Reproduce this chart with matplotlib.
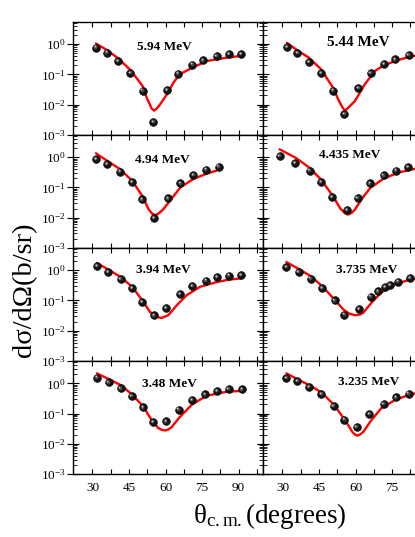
import matplotlib
matplotlib.use("Agg")
import matplotlib.pyplot as plt
import numpy as np
from matplotlib.ticker import FixedLocator, LogLocator, LogFormatterMathtext, NullFormatter
from matplotlib.transforms import offset_copy

plt.rcParams['font.family'] = ['Liberation Serif', 'DejaVu Serif']
plt.rcParams['mathtext.fontset'] = 'custom'
plt.rcParams['mathtext.rm'] = 'Liberation Serif'
plt.rcParams['mathtext.it'] = 'Liberation Serif:italic'
plt.rcParams['mathtext.bf'] = 'Liberation Serif:bold'

# ---------------- data ----------------
energies = ["5.94 MeV", "5.44 MeV", "4.94 MeV", "4.435 MeV",
            "3.94 MeV", "3.735 MeV", "3.48 MeV", "3.235 MeV"]

# 5.94 MeV
e594_x = [31.4, 36, 40.5, 45.6, 50.6, 55, 60.6, 65.2, 71, 75.5, 81, 86, 91]
e594_y = [0.77, 0.52, 0.28, 0.11, 0.029, 0.0026, 0.030, 0.105, 0.21, 0.29, 0.41, 0.47, 0.47]
e594_fx = [31.4, 36, 40.5, 45.6, 50.6, 52.4, 54.3, 55.3, 56.4, 57.7, 60.5, 63.2, 65.8, 71, 76.9, 85, 91]
e594_fy = [1.05, 0.63, 0.339, 0.138, 0.0407, 0.0158, 0.0074, 0.0063, 0.0074, 0.010, 0.0214, 0.0525, 0.10, 0.166, 0.275, 0.355, 0.407]

# 5.44 MeV
e544_x = [31.8, 36.1, 40.8, 45.8, 50.8, 55.4, 61.2, 66.2, 71.6, 76.2, 81.8]
e544_y = [0.79, 0.51, 0.26, 0.11, 0.029, 0.0048, 0.035, 0.11, 0.22, 0.31, 0.43]
e544_fx = [31.8, 36, 40.8, 45.8, 50.8, 53, 54.8, 55.7, 56.8, 59.7, 63.8, 67.9, 71.7, 77.3, 82.7, 84.5]
e544_fy = [1.1, 0.63, 0.355, 0.148, 0.0355, 0.0141, 0.0076, 0.0063, 0.0076, 0.0129, 0.0468, 0.129, 0.20, 0.295, 0.389, 0.41]

# 4.94 MeV
e494_x = [31.4, 35.9, 41.2, 46.3, 50.4, 55.2, 60.9, 66.1, 71.4, 76.7, 81.8]
e494_y = [0.86, 0.60, 0.33, 0.15, 0.040, 0.0095, 0.043, 0.135, 0.26, 0.39, 0.49]
e494_fx = [31.4, 36, 41.2, 46.3, 50.4, 53, 54.5, 55.8, 57.2, 59.1, 61.8, 66.1, 71.4, 76.8, 81.8]
e494_fy = [1.35, 0.76, 0.407, 0.166, 0.0525, 0.019, 0.0135, 0.012, 0.0138, 0.019, 0.0363, 0.10, 0.19, 0.282, 0.38]

# 4.435 MeV
e4435_x = [28.8, 35.1, 41.1, 45.8, 50.3, 56.5, 60.8, 66, 71.5, 76.6, 81.5]
e4435_y = [1.1, 0.65, 0.36, 0.15, 0.048, 0.0175, 0.045, 0.135, 0.25, 0.36, 0.47]
e4435_fx = [28.8, 35.4, 41.1, 45.8, 50.3, 53.7, 55.5, 56.8, 58.2, 59.7, 62.4, 66, 71.5, 77.3, 82.7, 84.5]
e4435_fy = [1.82, 0.955, 0.447, 0.182, 0.0575, 0.0204, 0.0141, 0.0126, 0.0141, 0.0182, 0.0398, 0.0955, 0.195, 0.302, 0.389, 0.41]

# 3.94 MeV
e394_x = [31.8, 36.4, 41.5, 46.3, 50.4, 55.3, 60.2, 65.9, 71, 76.7, 81.2, 86.1, 91.1]
e394_y = [1.35, 0.88, 0.50, 0.26, 0.089, 0.032, 0.057, 0.16, 0.30, 0.45, 0.60, 0.66, 0.68]
e394_fx = [31.8, 36.5, 41.5, 46.3, 50.4, 53.6, 56.4, 58.4, 61.1, 64.6, 68.6, 74.1, 81, 86, 91.1]
e394_fy = [1.74, 1.05, 0.603, 0.282, 0.102, 0.0417, 0.0288, 0.0263, 0.0324, 0.0692, 0.148, 0.282, 0.407, 0.49, 0.537]

# 3.735 MeV
e3735_x = [31.6, 36.6, 41.5, 46.2, 51.4, 55.4, 61.5, 66.2, 69.2, 72.2, 74.2, 77.4, 82.3]
e3735_y = [1.3, 0.88, 0.53, 0.26, 0.10, 0.034, 0.052, 0.135, 0.20, 0.28, 0.33, 0.42, 0.55]
e3735_fx = [31.6, 36.5, 41.5, 46.2, 51.4, 55, 57.5, 59.8, 62, 63.1, 66.5, 70.5, 76, 82.7, 84.5]
e3735_fy = [1.86, 1.12, 0.646, 0.302, 0.107, 0.0501, 0.0363, 0.0324, 0.0347, 0.0389, 0.0832, 0.182, 0.339, 0.501, 0.525]

# 3.48 MeV
e348_x = [31.8, 36.6, 41.6, 46.1, 50.8, 54.8, 60.3, 65.4, 70.9, 76.1, 81.2, 85.9, 91.3]
e348_y = [1.55, 1.07, 0.68, 0.38, 0.16, 0.053, 0.055, 0.135, 0.28, 0.43, 0.55, 0.65, 0.63]
e348_fx = [31.8, 36.6, 41.6, 46.1, 50.8, 54.3, 57, 58.5, 60, 61.2, 62.5, 65.9, 70.9, 76.9, 85, 91.3]
e348_fy = [2.14, 1.38, 0.871, 0.437, 0.174, 0.0603, 0.0331, 0.0288, 0.0275, 0.030, 0.0355, 0.0776, 0.20, 0.389, 0.525, 0.562]

# 3.235 MeV
e3235_x = [31.6, 36.1, 41, 46, 51, 55.4, 60.4, 65.7, 71.5, 76.5, 81.8]
e3235_y = [1.47, 1.17, 0.74, 0.45, 0.18, 0.063, 0.036, 0.098, 0.21, 0.34, 0.46]
e3235_fx = [31.6, 36, 41, 46, 51, 55.7, 58.7, 59.8, 60.8, 61.9, 63.1, 66.5, 70.5, 76, 82.7, 84.5]
e3235_fy = [2.14, 1.38, 0.871, 0.501, 0.20, 0.0603, 0.0245, 0.020, 0.0186, 0.0204, 0.0245, 0.0603, 0.148, 0.275, 0.437, 0.468]

x_ticks = [30, 45, 60, 75, 90]
x_tick_labels_left = ["30", "45", "60", "75", "90"]
x_tick_labels_right = ["30", "45", "60", "75", ""]   # 90 lies beyond the cropped edge

panels = [
    (e594_x, e594_y, e594_fx, e594_fy),
    (e544_x, e544_y, e544_fx, e544_fy),
    (e494_x, e494_y, e494_fx, e494_fy),
    (e4435_x, e4435_y, e4435_fx, e4435_fy),
    (e394_x, e394_y, e394_fx, e394_fy),
    (e3735_x, e3735_y, e3735_fx, e3735_fy),
    (e348_x, e348_y, e348_fx, e348_fy),
    (e3235_x, e3235_y, e3235_fx, e3235_fy),
]

label_pos = [(0.479, 0.777), (0.50, 0.82), (0.47, 0.78), (0.458, 0.82),
             (0.475, 0.805), (0.546, 0.805), (0.51, 0.80), (0.554, 0.81)]
label_size = [9.5, 11, 9.5, 9.5, 9.5, 9.5, 9.5, 9.5]

# ---------------- figure ----------------
W, H = 415, 537
fig = plt.figure(figsize=(W / 100, H / 100), dpi=100)

top_px, bot_px = 21.7, 474.0
row_h = (bot_px - top_px) / 4
col_x = [73.0, 263.0]
col_w = 190.0

for i, (px, py, fx, fy) in enumerate(panels):
    r, c = divmod(i, 2)
    y0 = top_px + row_h * (r + 1)
    ax = fig.add_axes([col_x[c] / W, 1 - y0 / H, col_w / W, row_h / H])
    ax.set_yscale('log')
    ax.set_xlim(22, 100)
    ax.set_ylim(1e-3, 5.5)

    ax.plot(fx, fy, color='#ff0000', lw=1.7, zorder=2, solid_capstyle='round',
            solid_joinstyle='round')
    ax.plot(px, py, 'o', color='#111111', ms=5.6, mec='#000000', mew=0.4, zorder=3)
    tr1 = offset_copy(ax.transData, fig=fig, x=-0.6, y=0.6, units='points')
    ax.plot(px, py, 'o', color='#4a4a4a', ms=2.8, mec='none', transform=tr1, zorder=4)
    tr2 = offset_copy(ax.transData, fig=fig, x=-0.9, y=0.9, units='points')
    ax.plot(px, py, 'o', color='#c4c4c4', ms=1.4, mec='none', transform=tr2, zorder=5)

    ax.text(label_pos[i][0], label_pos[i][1], energies[i], transform=ax.transAxes,
            ha='center', va='center', fontsize=label_size[i], fontweight='bold')

    ax.xaxis.set_major_locator(FixedLocator(x_ticks))
    ax.xaxis.set_minor_locator(FixedLocator([37.5, 52.5, 67.5, 82.5, 97.5]))
    ax.yaxis.set_major_locator(FixedLocator([1e-3, 1e-2, 1e-1, 1e0]))
    ax.yaxis.set_minor_locator(LogLocator(base=10, subs=np.arange(2, 10), numticks=20))
    ax.yaxis.set_minor_formatter(NullFormatter())

    ax.tick_params(axis='x', which='both', direction='in', length=3.5, width=0.8,
                   top=True, bottom=True, labelsize=9.5, pad=6)
    ax.tick_params(axis='y', which='major', direction='inout', length=9, width=0.8,
                   left=True, right=True, labelsize=9.5, pad=0.5)
    ax.tick_params(axis='y', which='minor', direction='in', length=3.2, width=0.6,
                   left=True, right=True)

    if r == 3:
        ax.set_xticklabels(x_tick_labels_left if c == 0 else x_tick_labels_right)
    else:
        ax.set_xticklabels([])
    if c == 0:
        ax.yaxis.set_major_formatter(LogFormatterMathtext())
    else:
        ax.set_yticklabels([])

    for s in ax.spines.values():
        s.set_linewidth(1.0)
        s.set_color('#000000')

fig.text(25 / W, 1 - 290 / H, "dσ/dΩ(b/sr)", rotation=90, ha='center', va='center',
         fontsize=20.5)
fig.text(270 / W, 1 - 516 / H, r"$\mathrm{θ_{c.m.}}$(degrees)", ha='center', va='center',
         fontsize=19.5)

fig.savefig("out.png", dpi=100)
